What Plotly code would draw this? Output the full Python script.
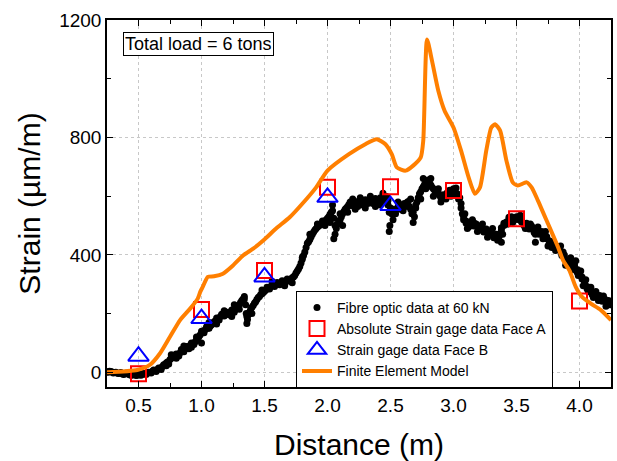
import plotly.graph_objects as go

# ---------------- data ----------------
fibre_x = [
    0.25, 0.27, 0.29, 0.31, 0.33, 0.35, 0.37, 0.39, 0.41, 0.43, 0.45, 0.47, 0.49, 0.51, 0.53, 0.55, 0.57, 0.59,
    0.61, 0.63, 0.65, 0.67, 0.69, 0.71, 0.73, 0.75, 0.77, 0.79, 0.81, 0.83, 0.85, 0.87, 0.89, 0.91, 0.93, 0.95, 0.97, 0.99,
    0.72, 0.76, 0.80, 0.86, 0.92, 0.96, 1.00,
    1.01, 1.03, 1.05, 1.07, 1.09, 1.11, 1.13, 1.15, 1.17, 1.19, 1.21, 1.23, 1.25, 1.27, 1.29, 1.31, 1.33, 1.34,
    1.06, 1.12, 1.18, 1.24, 1.30, 1.26,
    1.35, 1.355, 1.36, 1.365, 1.37, 1.39, 1.41, 1.43, 1.45, 1.47, 1.49, 1.51, 1.53, 1.55, 1.57, 1.59, 1.61, 1.63,
    1.65, 1.67, 1.69, 1.71, 1.73, 1.75, 1.77, 1.79, 1.81, 1.83, 1.85, 1.87, 1.89, 1.91, 1.93, 1.95, 1.97, 1.99,
    2.01, 2.03, 2.04, 2.05, 2.06, 2.07,
    1.40, 1.48, 1.56, 1.66, 1.72, 1.80, 1.86, 1.92, 1.98, 2.02,
    2.09, 2.11, 2.13, 2.15, 2.17, 2.19, 2.21, 2.23, 2.25, 2.27, 2.29, 2.31, 2.33, 2.35, 2.37, 2.39, 2.41, 2.43,
    2.45, 2.47, 2.48, 2.49, 2.495, 2.50, 2.51, 2.53, 2.55, 2.57, 2.59, 2.61, 2.63, 2.65, 2.67, 2.69, 2.71, 2.73,
    2.75, 2.77, 2.79, 2.80, 2.81, 2.83, 2.85, 2.87, 2.89, 2.91, 2.93, 2.95, 2.97, 2.99, 3.01, 3.03, 3.05, 3.06,
    3.07, 3.08, 3.10, 3.12, 3.14, 3.16, 3.18, 3.20, 3.22, 3.24, 3.26, 3.28, 3.30, 3.32, 3.34, 3.36, 3.38, 3.40,
    3.42, 3.44, 3.46, 3.48, 3.50, 3.52, 3.54, 3.56, 3.58, 3.60, 3.62, 3.64, 3.66, 3.68, 3.70, 3.72, 3.74, 3.76,
    3.78, 3.80, 3.82, 3.84, 3.86, 3.88, 3.90, 3.92, 3.94, 3.96, 3.98, 4.00, 4.02, 4.04, 4.06, 4.08, 4.10, 4.12,
    4.14, 4.16, 4.18, 4.20, 4.22, 4.24,
    2.10, 2.12, 2.16, 2.20, 2.22, 2.26, 2.30, 2.34, 2.38, 2.42, 2.44, 2.52, 2.56, 2.60, 2.66, 2.68, 2.70, 2.74,
    2.76, 2.78, 2.82, 2.84, 2.88, 2.90, 2.94, 2.98, 3.02, 3.04, 3.09, 3.11, 3.15, 3.19, 3.23, 3.27, 3.31, 3.35,
    3.39, 3.43, 3.47, 3.53, 3.57, 3.61, 3.65, 3.67, 3.71, 3.73, 3.75, 3.79, 3.81, 3.85, 3.87, 3.89, 3.93, 3.95,
    3.97, 3.99, 4.01, 4.03, 4.05, 4.07, 4.09, 4.11, 4.13, 4.15, 4.19, 4.21, 4.23,
    2.05, 2.49, 3.38, 3.65,
]
fibre_y = [
    2, 4, 1, -1, -2, -3, -4, -6, -5, -8, -9, -7, -10, -8, -6, -5, -3, -1,
    4, 6, 10, 14, 20, 27, 35, 44, 50, 56, 61, 67, 74, 80, 84, 92, 98, 104, 118, 128,
    22, 60, 48, 90, 85, 120, 100,
    140, 146, 150, 158, 168, 175, 182, 190, 194, 198, 200, 205, 210, 215, 225, 238, 250, 258,
    170, 165, 210, 190, 215, 230,
    230, 200, 166, 180, 195, 215, 228, 240, 255, 265, 272, 280, 287, 292, 296, 300, 302, 305,
    308, 310, 313, 318, 325, 338, 352, 372, 398, 425, 445, 462, 478, 490, 498, 505, 510, 520,
    530, 545, 570, 525, 470, 490,
    200, 280, 310, 295, 305, 385, 470, 505, 500, 510,
    510, 530, 548, 560, 572, 568, 575, 570, 578, 575, 580, 578, 584, 580, 586, 583, 588, 590,
    594, 598, 585, 545, 500, 560, 540, 548, 555, 562, 568, 575, 578, 565, 540, 530, 580, 608,
    625, 640, 650, 655, 645, 630, 620, 612, 602, 598, 600, 612, 620, 618, 612, 608, 595, 560,
    540, 520, 508, 505, 500, 510, 498, 495, 490, 485, 480, 475, 470, 465, 462, 470, 485, 500,
    512, 520, 522, 525, 524, 520, 512, 506, 500, 495, 490, 484, 480, 476, 472, 468, 455, 440,
    432, 428, 426, 420, 405, 390, 380, 375, 372, 365, 350, 338, 325, 305, 292, 282, 272, 266,
    262, 256, 250, 244, 235, 230,
    540, 500, 545, 590, 555, 595, 560, 600, 565, 570, 610, 520, 580, 550, 590, 510, 560, 590,
    660, 625, 660, 600, 625, 580, 590, 600, 628, 590, 540, 490, 520, 480, 505, 460, 490, 450,
    470, 505, 510, 535, 490, 505, 470, 495, 455, 480, 430, 445, 415, 430, 410, 365, 390, 350,
    380, 330, 345, 295, 315, 275, 290, 255, 275, 245, 260, 225, 245,
    455, 480, 443, 443,
]
# second pass of fibre readings (band thickness), as (distance, strain) pairs
fibre_extra = [
    (0.26, 0), (0.28, 3), (0.30, -2), (0.32, 0), (0.34, -4), (0.36, -1), (0.38, -7), (0.40, -3), (0.42, -6),
    (0.44, -10), (0.46, -5), (0.48, -11), (0.50, -6), (0.52, -10), (0.54, -4), (0.56, -7), (0.58, 0), (0.60, -2),
    (0.62, 8), (0.64, 3), (0.66, 15), (0.68, 10), (0.70, 26), (0.72, 32), (0.74, 28), (0.76, 48), (0.78, 58),
    (0.80, 62), (0.82, 56), (0.84, 78), (0.86, 70), (0.88, 88), (0.90, 80), (0.92, 100), (0.94, 95), (0.96, 110),
    (0.98, 122), (1.00, 140), (1.02, 135), (1.04, 155), (1.06, 150), (1.08, 162), (1.10, 172), (1.12, 185),
    (1.14, 178), (1.16, 198), (1.18, 192), (1.20, 205), (1.22, 196), (1.24, 212), (1.26, 205), (1.28, 222),
    (1.30, 230), (1.32, 245), (1.34, 250), (1.36, 190), (1.38, 205), (1.40, 222), (1.42, 235), (1.44, 248),
    (1.46, 258), (1.48, 268), (1.50, 276), (1.52, 290), (1.54, 284), (1.56, 298), (1.58, 292), (1.60, 306),
    (1.62, 298), (1.64, 312), (1.66, 305), (1.68, 318), (1.70, 310), (1.72, 322), (1.74, 330), (1.76, 345),
    (1.78, 360), (1.80, 392), (1.82, 410), (1.84, 440), (1.86, 452), (1.88, 470), (1.90, 485), (1.92, 495),
    (1.94, 502), (1.96, 515), (1.98, 515), (2.00, 525), (2.02, 538), (2.04, 550), (2.06, 500), (2.08, 505),
    (2.10, 520), (2.12, 540), (2.14, 555), (2.16, 565), (2.18, 580), (2.20, 570), (2.22, 582), (2.24, 565),
    (2.26, 585), (2.28, 570), (2.30, 588), (2.32, 575), (2.34, 590), (2.36, 575), (2.38, 592), (2.40, 580),
    (2.42, 595), (2.44, 585), (2.46, 600), (2.48, 570), (2.50, 545), (2.52, 555), (2.54, 540), (2.56, 565),
    (2.58, 555), (2.60, 572), (2.62, 565), (2.64, 582), (2.66, 555), (2.68, 545), (2.70, 570), (2.72, 595),
    (2.74, 615), (2.76, 632), (2.78, 648), (2.80, 640), (2.82, 638), (2.84, 625), (2.86, 608), (2.88, 610),
    (2.90, 595), (2.92, 605), (2.94, 600), (2.96, 618), (2.98, 612), (3.00, 625), (3.02, 605), (3.04, 600),
    (3.06, 575), (3.08, 530), (3.10, 515), (3.12, 495), (3.14, 510), (3.16, 498), (3.18, 505), (3.20, 485),
    (3.22, 498), (3.24, 478), (3.26, 488), (3.28, 468), (3.30, 480), (3.32, 458), (3.34, 470), (3.36, 460),
    (3.38, 492), (3.40, 508), (3.42, 505), (3.44, 528), (3.46, 530), (3.48, 518), (3.50, 530), (3.52, 528),
    (3.54, 518), (3.56, 500), (3.58, 508), (3.60, 488), (3.62, 498), (3.64, 476), (3.66, 488), (3.68, 470),
    (3.70, 480), (3.72, 460), (3.74, 462), (3.76, 448), (3.78, 425), (3.80, 436), (3.82, 418), (3.84, 428),
    (3.86, 398), (3.88, 400), (3.90, 372), (3.92, 382), (3.94, 365), (3.96, 372), (3.98, 342), (4.00, 345),
    (4.02, 318), (4.04, 312), (4.06, 285), (4.08, 288), (4.10, 265), (4.12, 270), (4.14, 255), (4.16, 262),
    (4.18, 242), (4.20, 250), (4.22, 240),
]

gage_x = [0.5, 1.0, 1.5, 2.0, 2.5, 3.0, 3.5, 4.0]
face_a_y = [-5, 214, 347, 630, 632, 619, 523, 243]

face_b_x = [0.5, 1.0, 1.5, 2.0, 2.5]
face_b_y = [55, 183, 325, 596, 568]

fe_x = [0.25, 0.49, 0.59, 0.67, 0.75, 0.83, 0.91, 0.97, 0.99, 1.01, 1.05, 1.10, 1.17, 1.25, 1.33, 1.41,
        1.49, 1.59, 1.70, 1.80, 1.91, 2.00, 2.17, 2.30, 2.39, 2.46, 2.51, 2.55, 2.62, 2.68, 2.74, 2.76,
        2.79, 2.83, 2.88, 2.93, 3.00, 3.06, 3.12, 3.17, 3.21, 3.26, 3.30, 3.33, 3.37, 3.42, 3.47, 3.51,
        3.58, 3.62, 3.67, 3.75, 3.83, 3.87, 3.92, 3.97, 4.02, 4.09, 4.17, 4.25]
fe_y = [0, 8, 25, 64, 121, 178, 217, 251, 274, 291, 325, 327, 336, 364, 398, 421,
        449, 489, 528, 574, 630, 687, 743, 777, 794, 777, 743, 698, 687, 704, 732, 789,
        1134, 1060, 958, 890, 834, 755, 664, 608, 630, 755, 834, 845, 823, 721, 647, 636,
        647, 630, 585, 506, 426, 381, 347, 291, 257, 234, 212, 178]

x_tick_vals = [0.5, 1.0, 1.5, 2.0, 2.5, 3.0, 3.5, 4.0]
x_tick_text = ["0.5", "1.0", "1.5", "2.0", "2.5", "3.0", "3.5", "4.0"]
y_tick_vals = [0, 400, 800, 1200]

all_fibre_x = fibre_x + [p[0] for p in fibre_extra]
all_fibre_y = fibre_y + [p[1] for p in fibre_extra]

# ---------------- figure ----------------
FONT = "Arial, Liberation Sans, sans-serif"
fig = go.Figure()

fig.add_trace(go.Scatter(
    x=all_fibre_x, y=all_fibre_y, mode="markers", name="Fibre optic data at 60 kN",
    marker=dict(color="black", size=7, symbol="circle", line=dict(width=0)),
))
fig.add_trace(go.Scatter(
    x=gage_x, y=face_a_y, mode="markers", name="Absolute Strain gage data Face A",
    marker=dict(symbol="square-open", size=15, color="#ff0000", line=dict(width=2, color="#ff0000")),
))
fig.add_trace(go.Scatter(
    x=face_b_x, y=face_b_y, mode="markers", name="Strain gage data Face B",
    marker=dict(symbol="triangle-up-open", size=18, color="#0000ff", line=dict(width=2, color="#0000ff")),
))
fig.add_trace(go.Scatter(
    x=fe_x, y=fe_y, mode="lines", name="Finite Element Model",
    line=dict(color="#ff7f00", width=4, shape="spline", smoothing=0.6),
))

axis_common = dict(
    showline=True, linecolor="black", linewidth=1.5, mirror="ticks",
    ticks="inside", ticklen=6, tickwidth=1.2, tickcolor="black",
    showgrid=True, gridcolor="#c8c8c8", griddash="dot", gridwidth=1,
    zeroline=False,
    tickfont=dict(family=FONT, size=19, color="black"),
)

fig.update_xaxes(
    range=[0.25, 4.25], tickvals=x_tick_vals, ticktext=x_tick_text,
    minor=dict(dtick=0.25, tick0=0.25, ticks="inside", ticklen=4, tickcolor="black", showgrid=False),
    title=dict(text="Distance (m)", font=dict(family=FONT, size=30, color="black"), standoff=19),
    **axis_common,
)
fig.update_yaxes(
    range=[-50, 1200], tickvals=y_tick_vals,
    minor=dict(dtick=200, tick0=0, ticks="inside", ticklen=4, tickcolor="black", showgrid=False),
    title=dict(text="Strain (µm/m)", font=dict(family=FONT, size=30, color="black"), standoff=10),
    **axis_common,
)

fig.add_annotation(
    text="Total load = 6 tons", xref="paper", yref="paper", x=0.032, y=0.968,
    xanchor="left", yanchor="top", showarrow=False,
    font=dict(family=FONT, size=18, color="black"),
    bordercolor="black", borderwidth=1, borderpad=1, bgcolor="white",
)

fig.update_layout(
    width=617, height=461,
    margin=dict(l=107, r=4, t=20, b=74),
    plot_bgcolor="white", paper_bgcolor="white",
    font=dict(family=FONT, color="black"),
    legend=dict(
        x=0.375, y=0.13, xanchor="left", yanchor="middle",
        bordercolor="black", borderwidth=1, bgcolor="white",
        font=dict(family=FONT, size=14, color="black"),
        tracegroupgap=0, itemwidth=30,
    ),
)

fig.write_html("out.html")
